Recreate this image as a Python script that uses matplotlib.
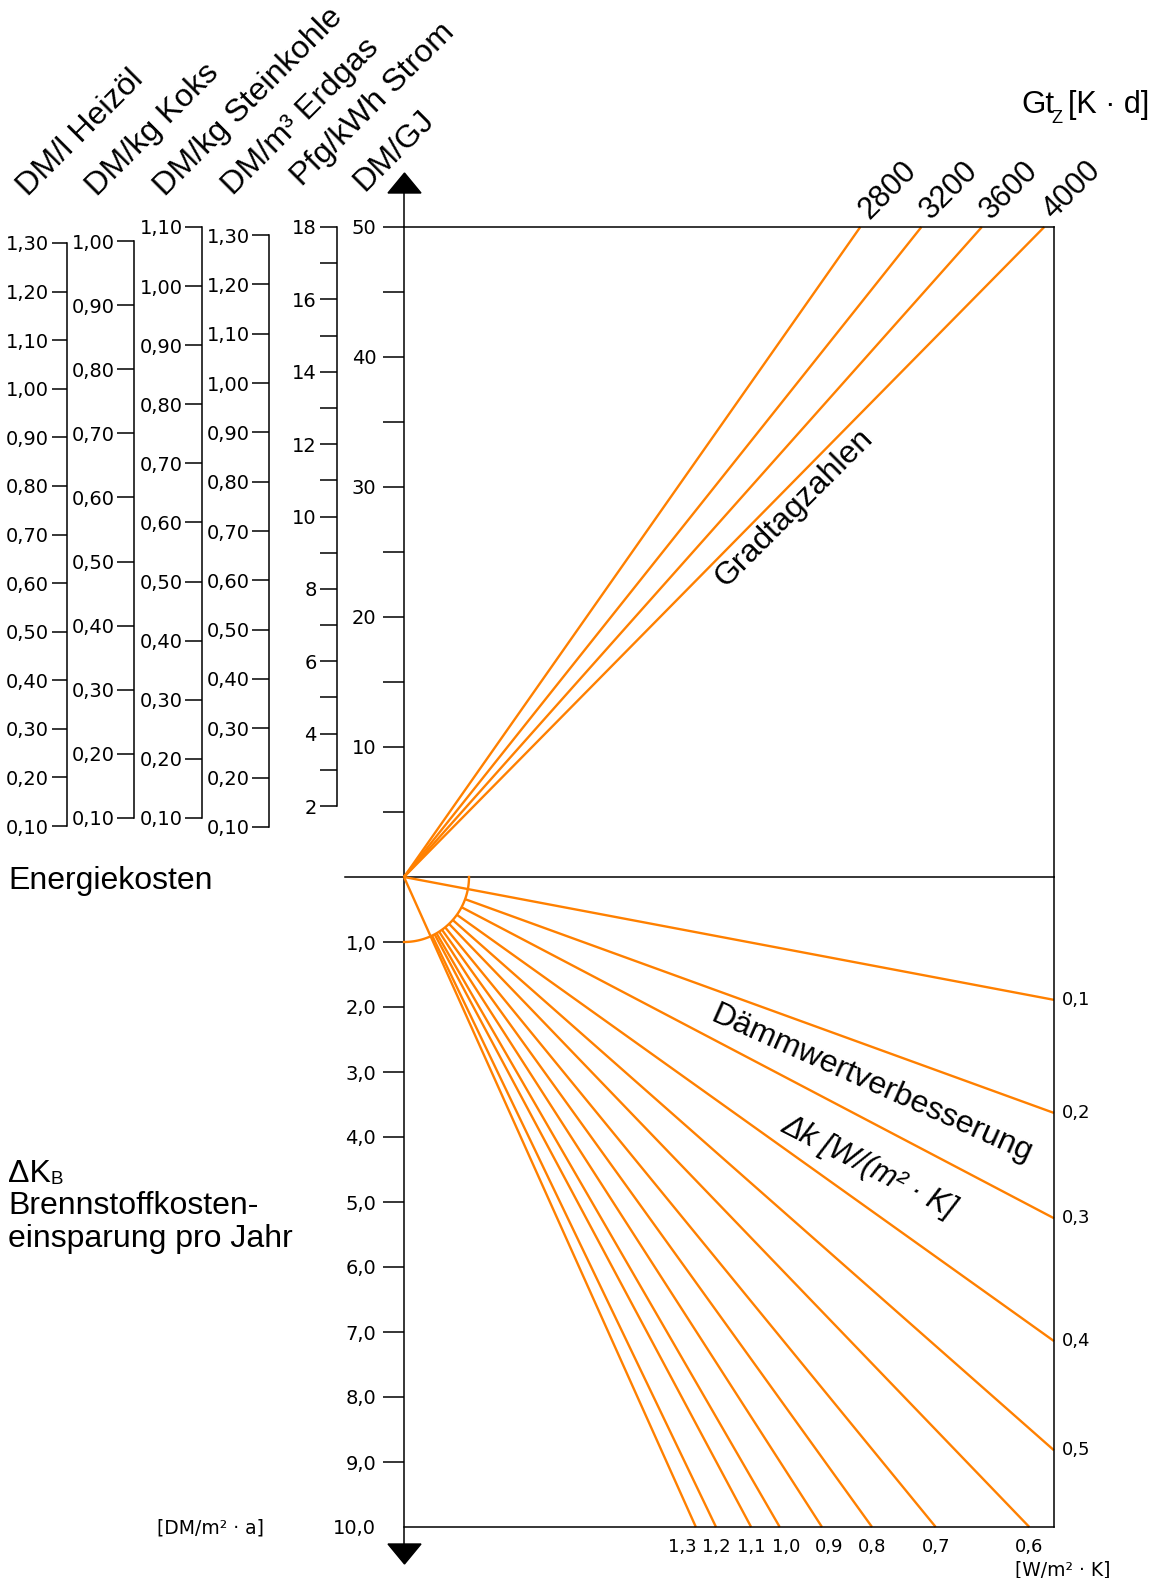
import numpy as np
import matplotlib
matplotlib.use('Agg')
import matplotlib.pyplot as plt
from matplotlib.patches import Polygon

plt.rcParams['font.family'] = ['Liberation Sans', 'DejaVu Sans']

# ---- data ----
# degree-day lines (upper half): where each line meets the 50 DM/GJ edge, as fraction of width
gt_values = [2800, 3200, 3600, 4000]
gt_top_pos = [0.702, 0.796, 0.889, 0.985]

# insulation improvement lines (lower half)
dk_right = [0.1, 0.2, 0.3, 0.4, 0.5]
dK_at_right = [1.89, 3.63, 5.25, 7.14, 8.82]          # DM/(m2 a) at right edge
dk_bottom = [0.6, 0.7, 0.8, 0.9, 1.0, 1.1, 1.2, 1.3]
pos_at_bottom = [0.962, 0.818, 0.720, 0.643, 0.578, 0.534, 0.480, 0.449]  # fraction of width at 10,0

# main axis ticks
gj_major = [10, 20, 30, 40, 50]
gj_minor = [5, 15, 25, 35, 45]
dK_ticks = [1, 2, 3, 4, 5, 6, 7, 8, 9, 10]

# energy price scales: tick values + DM/GJ equivalent of lowest/highest tick
heizoel_ticks = [0.10, 0.20, 0.30, 0.40, 0.50, 0.60, 0.70, 0.80, 0.90, 1.00, 1.10, 1.20, 1.30]
heizoel_gj = (3.92, 48.77)
koks_ticks = [0.10, 0.20, 0.30, 0.40, 0.50, 0.60, 0.70, 0.80, 0.90, 1.00]
koks_gj = (4.54, 48.92)
kohle_ticks = [0.10, 0.20, 0.30, 0.40, 0.50, 0.60, 0.70, 0.80, 0.90, 1.00, 1.10]
kohle_gj = (4.54, 50.0)
erdgas_ticks = [0.10, 0.20, 0.30, 0.40, 0.50, 0.60, 0.70, 0.80, 0.90, 1.00, 1.10, 1.20, 1.30]
erdgas_gj = (3.85, 49.38)
strom_ticks = [2, 4, 6, 8, 10, 12, 14, 16, 18]
strom_minor = [3, 5, 7, 9, 11, 13, 15, 17]
strom_gj = (5.46, 50.0)

headings = ['DM/l Heizöl', 'DM/kg Koks', 'DM/kg Steinkohle', 'DM/m³ Erdgas',
            'Pfg/kWh Strom', 'DM/GJ']

ORANGE = '#FF8000'
W, H = 1152, 1578
X0, X1 = 404, 1054
Y_TOP, Y_ORG, Y_BOT = 227, 877, 1527
NUM = 14     # size of scale numbers
LW = 1.1


def box(x0, y0, x1, y1):
    return [x0 / W, 1 - y1 / H, (x1 - x0) / W, (y1 - y0) / H]


def de(v, nd):
    return f'{v:.{nd}f}'.replace('.', ',')


fig = plt.figure(figsize=(W / 100, H / 100), dpi=100)
base = fig.add_axes([0, 0, 1, 1])
base.set_xlim(0, W)
base.set_ylim(H, 0)
base.axis('off')

# upper quadrant: energy cost DM/GJ vs degree days
ax_up = fig.add_axes(box(X0, Y_TOP, X1, Y_ORG))
ax_up.set_xlim(0, 1)
ax_up.set_ylim(0, 50)
ax_up.patch.set_alpha(0)
for s in ['left', 'bottom']:
    ax_up.spines[s].set_visible(False)
for s in ['top', 'right']:
    ax_up.spines[s].set_linewidth(LW)
ax_up.set_xticks([])
ax_up.set_yticks(gj_major, labels=[str(v) for v in gj_major])
ax_up.set_yticks(gj_minor, minor=True)
ax_up.tick_params(axis='y', which='both', direction='out', length=15, width=LW, pad=5)
for t in ax_up.get_yticklabels():
    t.set_fontfamily('DejaVu Sans')
    t.set_fontsize(NUM)

for g, u in zip(gt_values, gt_top_pos):
    ax_up.plot([0, u], [0, 50], color=ORANGE, lw=1.7, clip_on=False, solid_capstyle='butt')
    ax_up.annotate(str(g), (u, 50), xytext=(6.5, 5), textcoords='offset points',
                   rotation=45, rotation_mode='anchor', ha='left', va='baseline', fontsize=22)

# lower quadrant: fuel cost saving vs insulation improvement
ax_lo = fig.add_axes(box(X0, Y_ORG, X1, Y_BOT))
ax_lo.set_xlim(0, 1)
ax_lo.set_ylim(10, 0)
ax_lo.patch.set_alpha(0)
for s in ['left', 'top']:
    ax_lo.spines[s].set_visible(False)
for s in ['bottom', 'right']:
    ax_lo.spines[s].set_linewidth(LW)
ax_lo.set_xticks([])
ax_lo.set_yticks(dK_ticks, labels=[de(v, 1) for v in dK_ticks])
ax_lo.tick_params(axis='y', direction='out', length=15, width=LW, pad=5)
ax_lo.yaxis.get_major_ticks()[-1].tick1line.set_visible(False)
for t in ax_lo.get_yticklabels():
    t.set_fontfamily('DejaVu Sans')
    t.set_fontsize(NUM)

ends = [(1.0, k) for k in dK_at_right] + [(u, 10.0) for u in pos_at_bottom]
dks = dk_right + dk_bottom
R_U, R_K = 0.1, 1.0
for i, (dk, (u, k)) in enumerate(zip(dks, ends)):
    phi = np.arctan2(k / 10.0, u)
    if i == 0 or i == len(dks) - 1:
        x_s, y_s = 0.0, 0.0
    else:
        x_s, y_s = R_U * np.cos(phi), R_K * np.sin(phi)
    ax_lo.plot([x_s, u], [y_s, k], color=ORANGE, lw=1.7, clip_on=False, solid_capstyle='butt')

th = np.linspace(0, np.pi / 2, 60)
ax_lo.plot(R_U * np.cos(th), R_K * np.sin(th), color=ORANGE, lw=1.7, clip_on=False)

for dk, k in zip(dk_right, dK_at_right):
    ax_lo.annotate(de(dk, 1), (1, k), xytext=(5.5, 0), textcoords='offset points',
                   ha='left', va='center', fontfamily='DejaVu Sans', fontsize=13)
shift = {1.3: -10, 1.0: 5, 0.9: 5}
for dk, u in zip(dk_bottom, pos_at_bottom):
    ax_lo.annotate(de(dk, 1), (u, 10), xytext=(shift.get(dk, 0), -14.5),
                   textcoords='offset points', ha='center', va='center',
                   fontfamily='DejaVu Sans', fontsize=13)

# main axis, origin line and arrows
base.plot([X0, X0], [193, 1544], color='black', lw=LW)
base.plot([345, X1], [Y_ORG, Y_ORG], color='black', lw=LW)
base.add_patch(Polygon([[388, 193], [421, 193], [404.5, 173]], closed=True, color='black'))
base.add_patch(Polygon([[388, 1544], [421, 1544], [404.5, 1564]], closed=True, color='black'))

# energy price scales (left)
scales = [
    (67, heizoel_ticks, None, heizoel_gj, 2, 11),
    (134, koks_ticks, None, koks_gj, 2, 12),
    (202, kohle_ticks, None, kohle_gj, 2, 12),
    (269, erdgas_ticks, None, erdgas_gj, 2, 12),
    (337, strom_ticks, strom_minor, strom_gj, 0, 12.5),
]
for x, ticks, minor, (g_lo, g_hi), nd, tl in scales:
    a = (g_hi - g_lo) / (ticks[-1] - ticks[0])
    b = g_lo - a * ticks[0]
    sax = fig.add_axes(box(x, Y_TOP, x + 0.5, Y_ORG))
    sax.patch.set_alpha(0)
    sax.set_ylim((0 - b) / a, (50 - b) / a)
    for s in ['top', 'right', 'bottom']:
        sax.spines[s].set_visible(False)
    sax.spines['left'].set_bounds(ticks[0], ticks[-1])
    sax.spines['left'].set_linewidth(LW)
    sax.set_xticks([])
    sax.set_yticks(ticks, labels=[de(v, nd) for v in ticks])
    if minor:
        sax.set_yticks(minor, minor=True)
    sax.tick_params(axis='y', which='both', direction='out', length=tl, width=LW, pad=2)
    for t in sax.get_yticklabels():
        t.set_fontfamily('DejaVu Sans')
        t.set_fontsize(NUM)

# headings
head_pos = [(28, 197), (97, 197), (165, 197), (233, 196), (302, 187), (364, 192)]
for txt, (x, y) in zip(headings, head_pos):
    base.text(x, y, txt, rotation=45, rotation_mode='anchor', ha='left', va='baseline',
              fontsize=23.2)

base.text(1021, 113, 'Gt', fontsize=22.5, ha='left', va='baseline')
base.text(1051, 123, 'Z', fontsize=13, ha='left', va='baseline')
base.text(1068, 113, '[K · d]', fontsize=22, ha='left', va='baseline')

base.text(794, 508, 'Gradtagzahlen', rotation=45, rotation_mode='anchor',
          ha='center', va='center', fontsize=23)
base.text(872, 1084, 'Dämmwertverbesserung', rotation=-24, rotation_mode='anchor',
          ha='center', va='center', fontsize=23)
base.text(869, 1167, 'Δk [W/(m² · K]', rotation=-27, rotation_mode='anchor',
          ha='center', va='center', fontsize=22, style='italic')

base.text(8, 889, 'Energiekosten', fontsize=23, ha='left', va='baseline')
base.text(8, 1182, 'ΔK', fontsize=23, ha='left', va='baseline')
base.text(51, 1184, 'B', fontsize=13.5, ha='left', va='baseline')
base.text(8, 1214, 'Brennstoffkosten-', fontsize=23, ha='left', va='baseline')
base.text(8, 1247, 'einsparung pro Jahr', fontsize=23, ha='left', va='baseline')

base.text(157, 1528, '[DM/m² · a]', fontfamily='DejaVu Sans', fontsize=13.5, ha='left', va='center')
base.text(1063, 1570, '[W/m² · K]', fontfamily='DejaVu Sans', fontsize=13.5, ha='center', va='center')

fig.savefig('out.png', dpi=100)
